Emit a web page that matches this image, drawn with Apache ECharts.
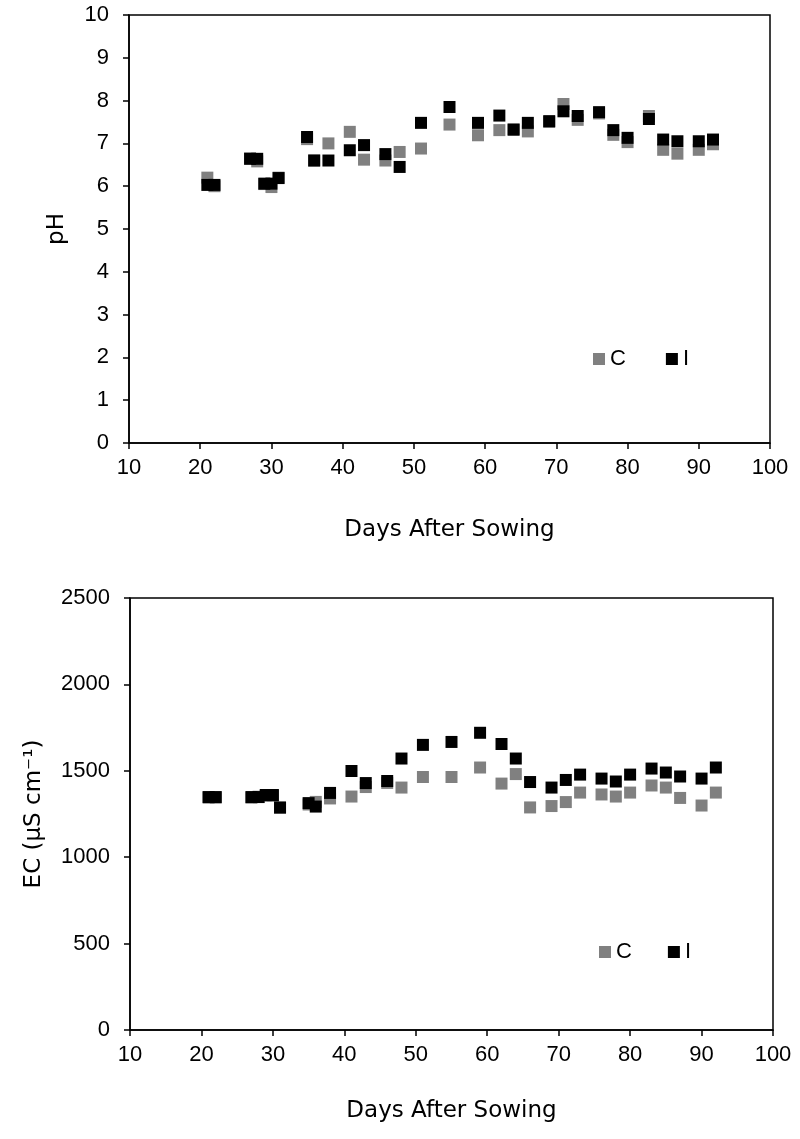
<!DOCTYPE html>
<html>
<head>
<meta charset="utf-8">
<script src="https://cdn.jsdelivr.net/npm/echarts@6/dist/echarts.min.js"></script>
<style>
  html, body { margin: 0; padding: 0; background: #fff; }
  #chart { width: 800px; height: 1139px; }
</style>
</head>
<body>
<div id="chart"></div>
<script>
// Days after sowing (shared by both panels)
const days = [21, 22, 27, 28, 29, 30, 31, 35, 36, 38, 41, 43, 46, 48, 51, 55, 59, 62, 64, 66, 69, 71, 73, 76, 78, 80, 83, 85, 87, 90, 92];

// pH values
const phC = [6.2, 6.0, 6.65, 6.58, 6.05, 5.98, 6.2, 7.1, 6.6, 7.0, 7.27, 6.62, 6.6, 6.8, 6.88, 7.44, 7.19, 7.31, 7.33, 7.28, 7.5, 7.92, 7.55, 7.7, 7.2, 7.03, 7.64, 6.85, 6.76, 6.85, 6.98];
const phI = [6.03, 6.03, 6.64, 6.64, 6.06, 6.06, 6.19, 7.15, 6.6, 6.6, 6.84, 6.96, 6.75, 6.45, 7.48, 7.85, 7.48, 7.65, 7.32, 7.48, 7.52, 7.75, 7.64, 7.73, 7.31, 7.13, 7.57, 7.09, 7.05, 7.05, 7.09];

// EC values (µS cm-1)
const ecC = [1345, 1345, 1345, 1350, 1355, 1355, 1285, 1305, 1320, 1340, 1351, 1406, 1430, 1403, 1464, 1464, 1519, 1426, 1481, 1288, 1296, 1319, 1374, 1363, 1351, 1374, 1415, 1403, 1343, 1299, 1374];
const ecI = [1348, 1348, 1348, 1348, 1360, 1360, 1288, 1313, 1293, 1372, 1499, 1429, 1441, 1571, 1650, 1667, 1720, 1655, 1571, 1435, 1403, 1447, 1478, 1455, 1438, 1478, 1513, 1490, 1467, 1455, 1519];

// Axis settings
const xTicks = { min: 10, max: 100, interval: 10 };
const phTicks = { min: 0, max: 10, interval: 1 };
const ecTicks = { min: 0, max: 2500, interval: 500 };

const pair = (xs, ys) => xs.map((x, i) => [x, ys[i]]);

const FONT = 'Liberation Sans';
const NAME_FONT = 'DejaVu Sans';
const FS = 22;
const NFS = 23;
const GRAY = '#808080';

const axisCommon = {
  axisLine: { show: true, onZero: false, lineStyle: { color: '#000', width: 1.5 } },
  axisTick: { show: true, inside: false, length: 6, lineStyle: { color: '#000', width: 1.5 } },
  splitLine: { show: false },
  nameTextStyle: { color: '#000', fontFamily: NAME_FONT, fontSize: NFS }
};
const xLabel = { color: '#000', fontFamily: FONT, fontSize: FS, margin: 14, formatter: v => String(v) };
const yLabel = { color: '#000', fontFamily: FONT, fontSize: FS, margin: 20, formatter: v => String(v) };

const legendText = { color: '#000', fontFamily: FONT, fontSize: FS };

const chart = echarts.init(document.getElementById('chart'), null, { renderer: 'canvas' });
chart.setOption({
  animation: false,
  backgroundColor: '#fff',
  grid: [
    { left: 129, top: 15, width: 641, height: 428, show: true, borderColor: '#000', borderWidth: 1.5, backgroundColor: 'transparent' },
    { left: 130, top: 598, width: 643, height: 432, show: true, borderColor: '#000', borderWidth: 1.5, backgroundColor: 'transparent' }
  ],
  legend: [
    { left: 588, top: 343, itemWidth: 12, itemHeight: 12, itemGap: 40, icon: 'rect',
      textStyle: legendText, data: ['C', 'I'] },
    { left: 594, top: 936, itemWidth: 12, itemHeight: 12, itemGap: 36, icon: 'rect',
      textStyle: legendText, data: ['C', 'I'] }
  ],
  xAxis: [
    Object.assign({}, axisCommon, { type: 'value', gridIndex: 0, min: xTicks.min, max: xTicks.max, interval: xTicks.interval,
      name: 'Days After Sowing', nameLocation: 'middle', nameGap: 76, axisLabel: xLabel }),
    Object.assign({}, axisCommon, { type: 'value', gridIndex: 1, min: xTicks.min, max: xTicks.max, interval: xTicks.interval,
      name: 'Days After Sowing', nameLocation: 'middle', nameGap: 70, axisLabel: xLabel })
  ],
  yAxis: [
    Object.assign({}, axisCommon, { type: 'value', gridIndex: 0, min: phTicks.min, max: phTicks.max, interval: phTicks.interval,
      name: 'pH', nameLocation: 'middle', nameGap: 60, nameRotate: 90, axisLabel: yLabel }),
    Object.assign({}, axisCommon, { type: 'value', gridIndex: 1, min: ecTicks.min, max: ecTicks.max, interval: ecTicks.interval,
      name: 'EC (µS cm⁻¹)', nameLocation: 'middle', nameGap: 84, nameRotate: 90, axisLabel: yLabel })
  ],
  series: [
    { name: 'C', type: 'scatter', xAxisIndex: 0, yAxisIndex: 0, symbol: 'rect', symbolSize: 12,
      itemStyle: { color: GRAY, opacity: 1 }, data: pair(days, phC) },
    { name: 'I', type: 'scatter', xAxisIndex: 0, yAxisIndex: 0, symbol: 'rect', symbolSize: 12,
      itemStyle: { color: '#000', opacity: 1 }, data: pair(days, phI) },
    { name: 'C', type: 'scatter', xAxisIndex: 1, yAxisIndex: 1, symbol: 'rect', symbolSize: 12,
      itemStyle: { color: GRAY, opacity: 1 }, data: pair(days, ecC) },
    { name: 'I', type: 'scatter', xAxisIndex: 1, yAxisIndex: 1, symbol: 'rect', symbolSize: 12,
      itemStyle: { color: '#000', opacity: 1 }, data: pair(days, ecI) }
  ]
});
</script>
</body>
</html>
